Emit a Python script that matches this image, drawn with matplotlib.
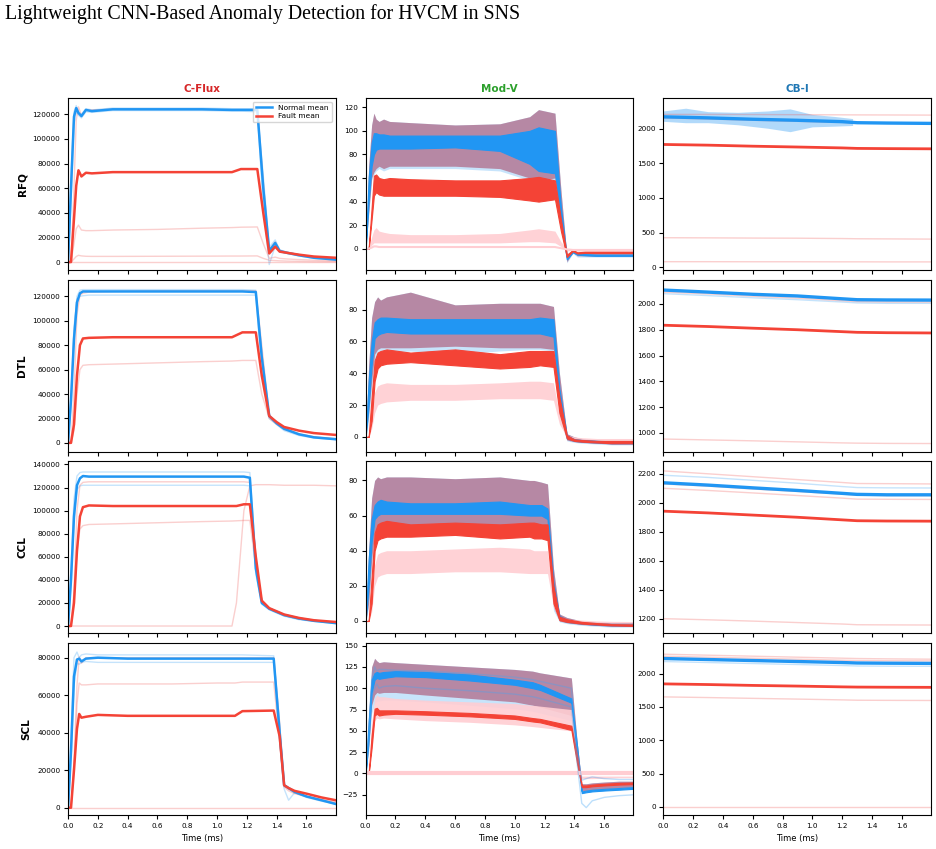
import matplotlib.pyplot as plt

NORMAL = '#2196F3'
FAULT = '#F44336'
NORMAL_FAINT = '#42A5F5'
FAULT_FAINT = '#EF5350'

systems = ['RFQ', 'DTL', 'CCL', 'SCL']
signals = ['C-Flux', 'Mod-V', 'CB-I']
signal_colors = ['#d62728', '#2ca02c', '#1f77b4']

t_flat = [0.0, 1.796]
zero_line = [0, 0]
t_cb = [0.0, 0.3, 0.6, 0.9, 1.2, 1.3, 1.5, 1.796]
t_cb_noise = [0.0, 0.15, 0.3, 0.5, 0.7, 0.85, 1.0, 1.15, 1.27]

# ---------------- RFQ ----------------
t_rfq = [0.0, 0.02, 0.04, 0.055, 0.07, 0.09, 0.12, 0.16, 0.3, 0.6, 0.9, 1.1, 1.16, 1.27, 1.31, 1.35, 1.39, 1.42, 1.47, 1.55, 1.65, 1.796]
rfq_flux_normal_mean = [0, 60000, 118000, 125000, 121000, 118500, 123500, 122500, 124000, 124000, 124000, 123500, 123500, 123500, 60000, 9000, 15500, 9000, 7500, 5500, 3500, 2000]
rfq_flux_fault_mean = [0, 0, 35000, 62000, 74500, 69500, 72500, 72000, 73000, 73000, 73000, 73000, 75500, 75500, 40000, 7000, 12500, 8500, 7500, 6000, 4500, 3500]
rfq_flux_normal_a = [0, 70000, 122000, 127000, 122000, 120000, 124500, 123500, 125000, 125000, 125000, 124500, 124500, 124500, 70000, 12000, 18000, 10000, 8000, 6000, 4000, 2500]
rfq_flux_normal_b = [0, 50000, 112000, 122000, 119000, 117000, 122000, 121500, 123000, 123000, 123000, 122500, 122500, 122000, 45000, -2000, 13000, 8000, 7000, 5000, 3000, 1800]
rfq_flux_fault_a = [0, 0, 60000, 115000, 126000, 119000, 123000, 123500, 124000, 124000, 124000, 123500, 123500, 123500, 65000, 10000, 16500, 9500, 8000, 6000, 4000, 2500]
rfq_flux_fault_b = [0, 0, 15000, 27000, 30000, 26000, 25500, 25500, 26000, 26500, 27500, 28000, 28300, 28500, 15000, 3000, 4000, 3000, 2500, 2000, 1500, 1000]
rfq_flux_fault_c = [0, 0, 2500, 4500, 5500, 5000, 4700, 4600, 4600, 4700, 4800, 4900, 4900, 5000, 3000, 1500, 1200, 1000, 800, 600, 400, 300]

rfq_modv_normal_lo = [0, 40, 70, 80, 84, 85, 85, 85, 85, 86, 83, 72, 66, 64, 25, -9, -3, -5, -5.5, -6, -6, -6]
rfq_modv_normal_hi = [0, 60, 90, 98, 98, 97, 97, 96, 96, 96, 96, 100, 103, 100, 35, -7, -2, -4, -4.5, -5, -5, -5]
rfq_modv_fault_lo = [0, 0, 25, 45, 48, 46, 45, 45, 45, 45, 44, 41, 40, 42, 15, -7, -2, -4, -3.5, -3.5, -3.5, -3.5]
rfq_modv_fault_hi = [0, 0, 35, 62, 63, 60, 59, 60, 59, 58, 58, 60, 61, 58, 25, -5, -1, -3, -2.5, -2.5, -2.5, -2.5]
rfq_modv_band_lo = [0, 30, 60, 65, 68, 70, 68, 70, 70, 70, 68, 60, 58, 60, 20, -11, -3, -6, -6, -6.5, -6.5, -6.5]
rfq_modv_band_hi = [0, 70, 105, 115, 110, 108, 110, 108, 107, 105, 106, 112, 118, 115, 50, -6, 0, -3, -3, -3, -3, -3]
rfq_modv_nlo = [0, 28, 58, 63, 66, 68, 66, 68, 68, 68, 66, 58, 56, 58, 18, -12, -4, -7, -7, -7, -7, -7]
rfq_modv_pale_lo = [0, 0, 3, 5, 5, 5, 5, 5, 5, 5, 5, 6, 6, 5, 2, -2, -1, -2, -2, -2, -2, -2]
rfq_modv_pale_hi = [0, 0, 10, 16, 18, 15, 14, 13, 12, 12, 13, 16, 17, 15, 6, 0, 0, -1, -1, -1, -1, -1]
rfq_modv_pale_line = [0, 0, 1, 2, 2, 1.5, 1.5, 1.5, 1.5, 1.5, 1.5, 1.5, 1.5, 1.5, 0.5, -0.5, -1, -1, -1, -1, -1, -1]

rfq_cbi_normal_mean = [2175, 2160, 2140, 2125, 2105, 2090, 2085, 2080]
rfq_cbi_fault_mean = [1775, 1765, 1750, 1738, 1725, 1718, 1715, 1712]
rfq_cbi_fault_a = [2160, 2145, 2125, 2110, 2095, 2085, 2080, 2078]
rfq_cbi_fault_b = [2210, 2210, 2208, 2206, 2204, 2203, 2202, 2200]
rfq_cbi_fault_c = [425, 423, 420, 418, 413, 410, 408, 405]
rfq_cbi_fault_d = [78, 78, 77, 77, 76, 76, 75, 75]
rfq_cbi_noise_lo = [2110, 2090, 2090, 2060, 2010, 1960, 2030, 2040, 2050]
rfq_cbi_noise_hi = [2260, 2300, 2250, 2240, 2260, 2290, 2210, 2180, 2150]

# ---------------- DTL ----------------
t_dtl = [0.0, 0.02, 0.04, 0.06, 0.08, 0.10, 0.14, 0.3, 0.6, 0.9, 1.1, 1.17, 1.26, 1.30, 1.35, 1.40, 1.45, 1.55, 1.65, 1.796]
dtl_flux_normal_mean = [0, 35000, 85000, 115000, 122500, 124000, 124000, 124000, 124000, 124000, 124000, 124000, 123500, 70000, 22000, 16000, 11500, 7000, 4500, 3000]
dtl_flux_fault_mean = [0, 0, 15000, 55000, 80000, 85500, 86000, 86500, 86500, 86500, 86500, 90500, 90500, 55000, 22000, 17000, 13000, 10000, 8000, 6500]
dtl_flux_normal_a = [0, 30000, 90000, 120000, 125000, 125500, 125500, 125500, 125500, 125500, 125500, 125500, 125000, 75000, 22000, 16000, 11500, 7000, 4500, 3000]
dtl_flux_normal_b = [0, 40000, 95000, 118000, 120000, 120500, 121000, 121000, 121000, 121000, 121000, 121000, 121000, 60000, 20000, 15000, 10000, 6000, 4000, 2500]
dtl_flux_fault_a = [0, 0, 40000, 105000, 121000, 122500, 123500, 124000, 124500, 124500, 124500, 124500, 124500, 80000, 23000, 17000, 12000, 7500, 5000, 3000]
dtl_flux_fault_b = [0, 0, 10000, 40000, 60000, 63500, 64000, 64500, 65500, 66500, 67000, 67500, 67500, 40000, 20000, 15000, 11000, 7000, 5000, 3500]

dtl_modv_normal_lo = [0, 20, 45, 62, 64, 65, 66, 65, 65, 65, 65, 65, 63, 20, -1, -2.5, -3, -3.5, -4, -4]
dtl_modv_normal_hi = [0, 35, 60, 72, 74, 75, 75, 74, 74, 74, 74, 75, 74, 30, 1, -1.5, -2, -2.5, -3, -3]
dtl_modv_fault_lo = [0, 0, 10, 35, 43, 45, 46, 47, 45, 43, 44, 45, 44, 15, -1, -2.5, -3, -3.5, -4, -4]
dtl_modv_fault_hi = [0, 0, 25, 48, 53, 54, 55, 53, 55, 52, 54, 54, 54, 25, 1, -1.5, -2, -2.5, -2.5, -2.5]
dtl_modv_band_lo = [0, 15, 35, 52, 55, 56, 56, 56, 57, 56, 56, 56, 55, 15, -2, -3, -3.5, -4, -4.5, -4.5]
dtl_modv_band_hi = [0, 45, 75, 85, 88, 86, 88, 91, 83, 84, 84, 84, 82, 40, 2, 0, -1, -2, -2.5, -2.5]
dtl_modv_nlo = [0, 10, 30, 48, 52, 53, 53, 54, 52, 54, 55, 55, 54, 12, -2.5, -3.5, -4, -4.5, -5, -5]
dtl_modv_pale_lo = [0, 0, 5, 15, 20, 21, 22, 23, 23, 24, 24, 24, 23, 8, 0, -1, -1.5, -2, -2, -2]
dtl_modv_pale_hi = [0, 0, 12, 28, 32, 33, 34, 33, 33, 34, 35, 35, 34, 14, 1, 0, -0.5, -1, -1, -1]

dtl_cbi_normal_mean = [2108, 2092, 2075, 2062, 2040, 2033, 2031, 2030]
dtl_cbi_normal_a = [2080, 2065, 2048, 2033, 2015, 2008, 2005, 2005]
dtl_cbi_fault_mean = [1835, 1825, 1812, 1800, 1785, 1780, 1777, 1775]
dtl_cbi_fault_a = [2092, 2078, 2060, 2045, 2025, 2018, 2015, 2015]
dtl_cbi_fault_b = [952, 945, 938, 930, 922, 920, 918, 917]

# ---------------- CCL ----------------
t_ccl = [0.0, 0.02, 0.04, 0.06, 0.08, 0.10, 0.14, 0.3, 0.6, 0.9, 1.1, 1.13, 1.18, 1.22, 1.26, 1.30, 1.35, 1.45, 1.55, 1.65, 1.796]
ccl_flux_normal_mean = [0, 40000, 95000, 122000, 128000, 130000, 129500, 129500, 129500, 129500, 129500, 129500, 129500, 128500, 50000, 20000, 15000, 9500, 6500, 4500, 2500]
ccl_flux_fault_mean = [0, 0, 20000, 65000, 95000, 103000, 104500, 104000, 104000, 104000, 104000, 104000, 105500, 105500, 60000, 22000, 15500, 10000, 7000, 5000, 3500]
ccl_flux_normal_a = [0, 50000, 110000, 130000, 133000, 133500, 133500, 133500, 133500, 133500, 133500, 133500, 133500, 133000, 60000, 21000, 14500, 9000, 6000, 4500, 2500]
ccl_flux_normal_b = [0, 35000, 90000, 118000, 121500, 122000, 122000, 122000, 122000, 122000, 122000, 122000, 122000, 121500, 45000, 19000, 14000, 8500, 5500, 4000, 2300]
ccl_flux_fault_a = [0, 0, 30000, 100000, 122000, 124500, 125000, 125000, 125000, 125000, 125000, 125000, 125000, 124500, 55000, 21000, 15000, 9000, 6000, 4500, 3000]
ccl_flux_fault_b = [0, 0, 20000, 65000, 84000, 87000, 88000, 88500, 89500, 90500, 91000, 91200, 91500, 91500, 50000, 21000, 15000, 9500, 6500, 4500, 3000]
ccl_flux_fault_c = [0, 0, 0, 0, 0, 0, 0, 0, 0, 0, 0, 20000, 100000, 121500, 122500, 122500, 122500, 122000, 122000, 122000, 121500]

ccl_modv_normal_lo = [0, 20, 45, 58, 60, 61, 61, 61, 61, 61, 60, 60, 60, 58, 12, 1, -0.5, -1.5, -2.2, -2.5, -2.7]
ccl_modv_normal_hi = [0, 35, 58, 66, 68, 69, 68, 67, 67, 68, 66, 66, 66, 64, 22, 3, 0.5, -1, -1.8, -2, -2.2]
ccl_modv_fault_lo = [0, 0, 10, 40, 46, 47, 48, 48, 49, 47, 48, 47, 47, 46, 10, 0.5, -0.5, -1.5, -2, -2.5, -2.8]
ccl_modv_fault_hi = [0, 0, 25, 50, 55, 56, 57, 55, 56, 55, 56, 56, 55, 55, 20, 2.5, 1, -0.5, -1.2, -1.8, -2]
ccl_modv_band_lo = [0, 10, 35, 50, 53, 54, 54, 54, 54, 54, 54, 54, 54, 54, 8, 0, -1, -2, -2.5, -3, -3]
ccl_modv_band_hi = [0, 40, 70, 80, 82, 81, 82, 82, 81, 82, 80, 80, 79, 78, 30, 4, 2, 0, -0.5, -1, -1]
ccl_modv_nlo = [0, 8, 30, 48, 51, 52, 53, 53, 53, 53, 53, 53, 53, 52, 6, -0.5, -1.5, -2.5, -3, -3.5, -3.5]
ccl_modv_pale_lo = [0, 0, 5, 20, 25, 26, 27, 27, 28, 28, 27, 27, 27, 27, 8, 0.5, 0, -0.5, -0.8, -1, -1]
ccl_modv_pale_hi = [0, 0, 15, 32, 38, 39, 40, 40, 41, 42, 41, 40, 40, 40, 15, 2, 1, 0.5, 0, -0.2, -0.3]

ccl_cbi_normal_mean = [2138, 2122, 2103, 2085, 2065, 2058, 2055, 2055]
ccl_cbi_normal_a = [2190, 2175, 2155, 2135, 2112, 2105, 2103, 2102]
ccl_cbi_fault_mean = [1942, 1930, 1915, 1900, 1882, 1876, 1874, 1873]
ccl_cbi_fault_a = [2220, 2200, 2180, 2160, 2140, 2133, 2132, 2130]
ccl_cbi_fault_b = [2100, 2085, 2068, 2050, 2032, 2025, 2024, 2023]
ccl_cbi_fault_c = [2130, 2115, 2095, 2078, 2060, 2053, 2050, 2050]
ccl_cbi_fault_d = [1200, 1192, 1183, 1173, 1163, 1158, 1157, 1156]

# ---------------- SCL ----------------
t_scl = [0.0, 0.02, 0.04, 0.06, 0.075, 0.09, 0.12, 0.2, 0.4, 0.7, 1.0, 1.12, 1.17, 1.38, 1.42, 1.45, 1.48, 1.52, 1.6, 1.7, 1.796]
scl_flux_normal_mean = [0, 30000, 70000, 79000, 79500, 78000, 79500, 80000, 79500, 79500, 79500, 79500, 79500, 79500, 40000, 12000, 10500, 8500, 6000, 4000, 2000]
scl_flux_fault_mean = [0, 0, 20000, 42000, 50000, 48000, 48500, 49500, 49000, 49000, 49000, 49000, 51500, 51800, 38000, 12000, 10500, 9000, 7500, 5500, 4000]
scl_flux_normal_a = [0, 40000, 80000, 83000, 80000, 81500, 82000, 81500, 81500, 81500, 81500, 81500, 81500, 81000, 45000, 10000, 4000, 8000, 6000, 4000, 2200]
scl_flux_normal_b = [0, 25000, 65000, 77000, 76500, 77500, 78000, 77500, 77500, 77500, 77500, 77500, 77500, 77500, 35000, 12000, 10000, 8000, 5500, 3500, 2000]
scl_flux_fault_a = [0, 0, 25000, 65000, 80500, 77000, 80000, 80000, 80000, 80000, 80000, 80000, 80000, 80000, 45000, 12000, 10000, 8000, 6000, 4000, 2500]
scl_flux_fault_b = [0, 0, 20000, 55000, 66500, 65500, 65500, 66000, 66000, 66000, 66500, 66500, 67000, 67000, 35000, 11000, 9000, 7500, 6000, 4500, 3000]

scl_modv_normal_lo = [0, 40, 95, 110, 112, 111, 112, 114, 113, 109, 104, 100, 98, 83, 20, -23, -22, -21, -20, -19, -18]
scl_modv_normal_hi = [0, 60, 110, 118, 119, 118, 119, 120, 119, 116, 110, 107, 104, 88, 30, -21, -20, -19, -18, -17, -16]
scl_modv_fault_lo = [0, 0, 30, 68, 70, 68, 69, 70, 69, 67, 64, 61, 60, 51, 10, -16, -16, -15, -14, -13, -12.5]
scl_modv_fault_hi = [0, 0, 45, 76, 77, 74, 74, 74, 73, 71, 68, 65, 64, 56, 20, -14, -14, -13, -12, -11, -10.5]
scl_modv_band_lo = [0, 30, 80, 92, 95, 94, 95, 95, 92, 88, 84, 80, 78, 68, 15, -20, -20, -19, -18, -17, -16]
scl_modv_band_hi = [0, 70, 125, 135, 132, 130, 131, 130, 128, 125, 122, 120, 118, 112, 35, -12, -12, -11, -10, -9, -9]
scl_modv_nlo = [0, 25, 70, 82, 85, 85, 86, 86, 84, 80, 76, 73, 71, 62, 12, -22, -22, -21, -20, -19, -18]
scl_modv_pale_lo = [0, 0, 40, 62, 65, 64, 65, 64, 62, 60, 57, 55, 54, 50, 10, -6, -6, -6, -5.5, -5, -5]
scl_modv_pale_hi = [0, 0, 60, 88, 92, 90, 90, 88, 86, 84, 82, 80, 79, 75, 20, -3, -3, -3, -3, -3, -3]
scl_modv_normal_a = [0, 35, 90, 100, 105, 100, 102, 103, 100, 97, 93, 90, 88, 78, 10, -35, -40, -32, -28, -26, -25]
scl_modv_normal_b = [0, 50, 110, 125, 120, 122, 122, 121, 120, 117, 113, 110, 108, 100, 25, -8, -6, -4, -6, -7, -7]

scl_cbi_normal_mean = [2225, 2210, 2195, 2180, 2165, 2158, 2155, 2152]
scl_cbi_normal_a = [2180, 2165, 2150, 2135, 2120, 2113, 2110, 2108]
scl_cbi_fault_mean = [1845, 1835, 1822, 1812, 1800, 1797, 1795, 1793]
scl_cbi_fault_a = [2290, 2275, 2260, 2245, 2230, 2225, 2220, 2215]
scl_cbi_fault_b = [2260, 2245, 2230, 2215, 2200, 2195, 2192, 2190]
scl_cbi_fault_c = [1650, 1640, 1628, 1617, 1605, 1600, 1598, 1596]

ylims = [
    [(-6250, 133200), (-17.8, 127.9), (-39, 2448)],
    [(-7100, 133600), (-9.2, 98.8), (855, 2188)],
    [(-6300, 142600), (-7.0, 90.8), (1099, 2285)],
    [(-3900, 87700), (-48.7, 152.7), (-121, 2454)],
]


def faint_lines(ax, t, normals, faults):
    for y in normals:
        ax.plot(t, y, color=NORMAL_FAINT, lw=1, alpha=0.3)
    for y in faults:
        ax.plot(t, y, color=FAULT_FAINT, lw=1, alpha=0.28)


def draw_flux(ax, t, nmean, fmean, normals, faults):
    faint_lines(ax, t, normals, faults)
    ax.plot(t, nmean, color=NORMAL, lw=1.8, label='Normal mean')
    ax.plot(t, fmean, color=FAULT, lw=1.8, label='Fault mean')


def draw_modv(ax, t, nlo, blo, bhi, plo, phi, nmlo, nmhi, fmlo, fmhi):
    ax.fill_between(t, nlo, bhi, color='#90CAF9', alpha=0.5, lw=0)
    ax.fill_between(t, blo, bhi, color='#b26f8c', alpha=0.78, lw=0)
    ax.fill_between(t, plo, phi, color='#FFCDD2', alpha=0.9, lw=0)
    ax.fill_between(t, nmlo, nmhi, color=NORMAL, lw=0.8, edgecolor=NORMAL)
    ax.fill_between(t, fmlo, fmhi, color=FAULT, lw=0.8, edgecolor=FAULT)


def draw_cbi(ax, nmean, fmean, normals, faults):
    faint_lines(ax, t_cb, normals, faults)
    ax.plot(t_cb, nmean, color=NORMAL, lw=2.4)
    ax.plot(t_cb, fmean, color=FAULT, lw=2.0)


fig, axes = plt.subplots(4, 3, figsize=(9.37, 8.49), dpi=100, sharex=True)
fig.subplots_adjust(left=0.0726, right=0.9936, top=0.8846, bottom=0.04,
                    wspace=0.112, hspace=0.058)

# RFQ
draw_flux(axes[0, 0], t_rfq, rfq_flux_normal_mean, rfq_flux_fault_mean,
          [rfq_flux_normal_a, rfq_flux_normal_b],
          [rfq_flux_fault_a, rfq_flux_fault_b, rfq_flux_fault_c])
axes[0, 0].plot(t_flat, zero_line, color=FAULT_FAINT, lw=1, alpha=0.28)
draw_modv(axes[0, 1], t_rfq, rfq_modv_nlo, rfq_modv_band_lo, rfq_modv_band_hi,
          rfq_modv_pale_lo, rfq_modv_pale_hi, rfq_modv_normal_lo, rfq_modv_normal_hi,
          rfq_modv_fault_lo, rfq_modv_fault_hi)
axes[0, 1].plot(t_rfq, rfq_modv_pale_line, color='#FFCDD2', lw=1.5)
axes[0, 2].fill_between(t_cb_noise, rfq_cbi_noise_lo, rfq_cbi_noise_hi,
                        color='#64B5F6', alpha=0.5, lw=0)
draw_cbi(axes[0, 2], rfq_cbi_normal_mean, rfq_cbi_fault_mean, [],
         [rfq_cbi_fault_a, rfq_cbi_fault_b, rfq_cbi_fault_c, rfq_cbi_fault_d])

# DTL
draw_flux(axes[1, 0], t_dtl, dtl_flux_normal_mean, dtl_flux_fault_mean,
          [dtl_flux_normal_a, dtl_flux_normal_b], [dtl_flux_fault_a, dtl_flux_fault_b])
draw_modv(axes[1, 1], t_dtl, dtl_modv_nlo, dtl_modv_band_lo, dtl_modv_band_hi,
          dtl_modv_pale_lo, dtl_modv_pale_hi, dtl_modv_normal_lo, dtl_modv_normal_hi,
          dtl_modv_fault_lo, dtl_modv_fault_hi)
draw_cbi(axes[1, 2], dtl_cbi_normal_mean, dtl_cbi_fault_mean, [dtl_cbi_normal_a],
         [dtl_cbi_fault_a, dtl_cbi_fault_b])

# CCL
draw_flux(axes[2, 0], t_ccl, ccl_flux_normal_mean, ccl_flux_fault_mean,
          [ccl_flux_normal_a, ccl_flux_normal_b],
          [ccl_flux_fault_a, ccl_flux_fault_b, ccl_flux_fault_c])
draw_modv(axes[2, 1], t_ccl, ccl_modv_nlo, ccl_modv_band_lo, ccl_modv_band_hi,
          ccl_modv_pale_lo, ccl_modv_pale_hi, ccl_modv_normal_lo, ccl_modv_normal_hi,
          ccl_modv_fault_lo, ccl_modv_fault_hi)
draw_cbi(axes[2, 2], ccl_cbi_normal_mean, ccl_cbi_fault_mean, [ccl_cbi_normal_a],
         [ccl_cbi_fault_a, ccl_cbi_fault_b, ccl_cbi_fault_c, ccl_cbi_fault_d])

# SCL
draw_flux(axes[3, 0], t_scl, scl_flux_normal_mean, scl_flux_fault_mean,
          [scl_flux_normal_a, scl_flux_normal_b], [scl_flux_fault_a, scl_flux_fault_b])
axes[3, 0].plot(t_flat, zero_line, color=FAULT_FAINT, lw=1, alpha=0.28)
axes[3, 1].plot(t_flat, zero_line, color='#FFCDD2', lw=3)
for y in [scl_modv_normal_a, scl_modv_normal_b]:
    axes[3, 1].plot(t_scl, y, color=NORMAL_FAINT, lw=1, alpha=0.35)
draw_modv(axes[3, 1], t_scl, scl_modv_nlo, scl_modv_band_lo, scl_modv_band_hi,
          scl_modv_pale_lo, scl_modv_pale_hi, scl_modv_normal_lo, scl_modv_normal_hi,
          scl_modv_fault_lo, scl_modv_fault_hi)
draw_cbi(axes[3, 2], scl_cbi_normal_mean, scl_cbi_fault_mean, [scl_cbi_normal_a],
         [scl_cbi_fault_a, scl_cbi_fault_b, scl_cbi_fault_c])
axes[3, 2].plot(t_flat, zero_line, color=FAULT_FAINT, lw=1, alpha=0.28)

for i, row in enumerate(systems):
    for j, sig in enumerate(signals):
        ax = axes[i, j]
        ax.set_xlim(0, 1.796)
        ax.set_ylim(*ylims[i][j])
        ax.tick_params(labelsize=5.2, length=3, width=0.8, pad=2.5)
        if i == 0:
            ax.set_title(sig, color=signal_colors[j], fontweight='bold', fontsize=7.5, pad=4.5)
        if j == 0:
            ax.set_ylabel(row, fontweight='bold', fontsize=7.5)
        if i == 3:
            ax.set_xlabel('Time (ms)', fontsize=6)

axes[0, 0].legend(loc='upper right', fontsize=5.4, handlelength=2.2, borderpad=0.4,
                  labelspacing=0.3)

fig.text(0.0053, 0.9953, 'Lightweight CNN-Based Anomaly Detection for HVCM in SNS',
         fontsize=14.3, family='Liberation Serif', ha='left', va='top')

fig.savefig('out.png', dpi=100)
